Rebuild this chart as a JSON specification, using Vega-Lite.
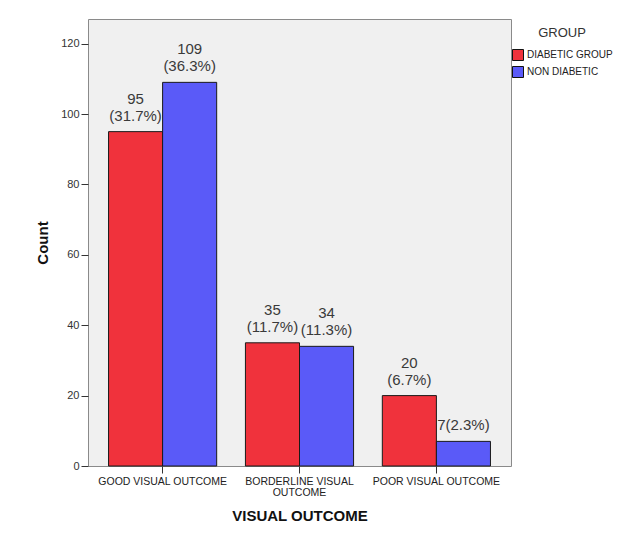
{
  "$schema": "https://vega.github.io/schema/vega-lite/v6.json",
  "width": 423,
  "height": 447,
  "autosize": {"type": "none"},
  "padding": {"left": 88, "top": 19, "right": 120, "bottom": 75},
  "background": "white",
  "config": {
    "font": "Liberation Sans",
    "view": {"fill": "#f0f0f0", "stroke": "#8a8a8a", "strokeWidth": 1}
  },
  "data": {
    "values": [
      {"outcome": "GOOD VISUAL OUTCOME", "group": "DIABETIC GROUP", "count": 95, "line1": "95", "line2": "(31.7%)"},
      {"outcome": "GOOD VISUAL OUTCOME", "group": "NON DIABETIC", "count": 109, "line1": "109", "line2": "(36.3%)"},
      {"outcome": "BORDERLINE  VISUAL OUTCOME", "group": "DIABETIC GROUP", "count": 35, "line1": "35", "line2": "(11.7%)"},
      {"outcome": "BORDERLINE  VISUAL OUTCOME", "group": "NON DIABETIC", "count": 34, "line1": "34", "line2": "(11.3%)"},
      {"outcome": "POOR  VISUAL OUTCOME", "group": "DIABETIC GROUP", "count": 20, "line1": "20", "line2": "(6.7%)"},
      {"outcome": "POOR  VISUAL OUTCOME", "group": "NON DIABETIC", "count": 7, "line1": "", "line2": "7(2.3%)"}
    ]
  },
  "encoding": {
    "x": {
      "field": "outcome",
      "type": "nominal",
      "sort": null,
      "scale": {"paddingInner": 0.21, "paddingOuter": 0.15},
      "title": "VISUAL OUTCOME",
      "axis": {
        "labelAngle": 0,
        "labelFontSize": 10.5,
        "labelColor": "#222222",
        "labelLimit": 300,
        "labelPadding": 3,
        "labelLineHeight": 11,
        "labelExpr": "datum.label == 'BORDERLINE  VISUAL OUTCOME' ? ['BORDERLINE  VISUAL', 'OUTCOME'] : datum.label",
        "tickSize": 7,
        "tickColor": "#333333",
        "domain": false,
        "titleFontSize": 15,
        "titleFontWeight": "bold",
        "titleColor": "#111111",
        "titlePadding": 11
      }
    },
    "xOffset": {"field": "group", "type": "nominal", "scale": {"paddingInner": 0, "paddingOuter": 0}},
    "y": {
      "field": "count",
      "type": "quantitative",
      "scale": {"domain": [0, 127], "nice": false},
      "title": "Count",
      "axis": {
        "values": [0, 20, 40, 60, 80, 100, 120],
        "grid": false,
        "domain": false,
        "labelFontSize": 11,
        "labelColor": "#333333",
        "labelPadding": 2,
        "tickSize": 7,
        "tickColor": "#333333",
        "titleFontSize": 15,
        "titleFontWeight": "bold",
        "titleColor": "#111111",
        "titleX": -38,
        "titleBaseline": "bottom"
      }
    }
  },
  "layer": [
    {
      "mark": {"type": "bar", "stroke": "#1a1a1a", "strokeWidth": 1},
      "encoding": {
        "color": {
          "field": "group",
          "type": "nominal",
          "scale": {"range": ["#f0323c", "#5a5af8"]},
          "legend": {
            "orient": "none",
            "legendX": 424,
            "legendY": 8,
            "title": "GROUP",
            "titleFontSize": 13,
            "titleFontWeight": "normal",
            "titleColor": "#333333",
            "titleAnchor": "middle",
            "titlePadding": 9,
            "symbolType": "square",
            "symbolSize": 121,
            "symbolStrokeColor": "#111111",
            "symbolStrokeWidth": 1,
            "symbolOpacity": 1,
            "labelFontSize": 10,
            "labelColor": "#222222",
            "labelOffset": 3,
            "rowPadding": 1,
            "padding": 0
          }
        }
      }
    },
    {
      "mark": {"type": "text", "baseline": "alphabetic", "dy": -11, "fontSize": 15, "color": "#3a3a3a"},
      "encoding": {"text": {"field": "line2"}}
    },
    {
      "mark": {"type": "text", "baseline": "alphabetic", "dy": -28, "fontSize": 15, "color": "#3a3a3a"},
      "encoding": {"text": {"field": "line1"}}
    }
  ]
}
